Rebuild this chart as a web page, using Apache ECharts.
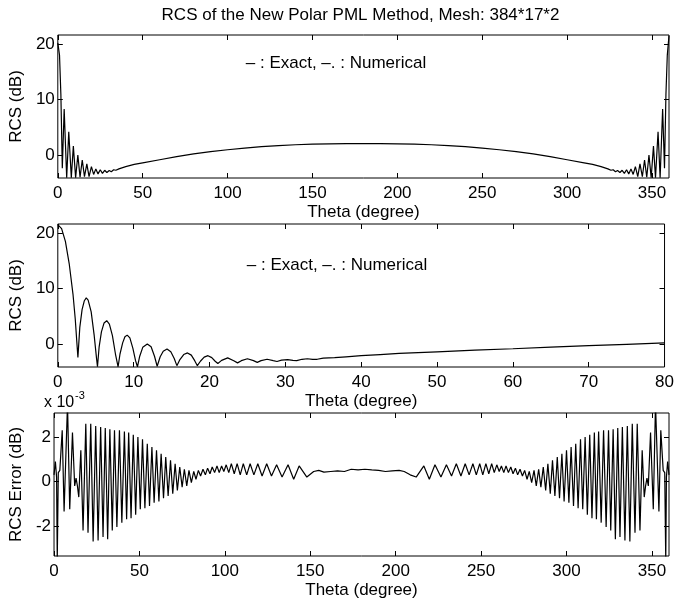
<!DOCTYPE html>
<html><head><meta charset="utf-8">
<script src="https://cdn.jsdelivr.net/npm/echarts@6/dist/echarts.min.js"></script>
<style>html,body{margin:0;padding:0;background:#fff}#c{width:677px;height:604px}</style>
</head><body><div id="c"></div>
<script>
// ---------- data ----------
// Panel 1: full-range RCS (dB) vs theta (deg)
const rcsWideTheta = [0,1,1.8,2.65,3.75,5.23,6.45,7.95,9.15,10.5,
  11.8,13.1,14.4,15.7,17.1,18.4,19.8,21.1,22.4,23.7,
  25,26.3,27.6,28.9,30.3,31.5,32.9,34.2,36,40,
  45,50,60,70,80,90,100,110,120,130,
  140,150,160,170,180,190,200,210,220,230,
  240,250,260,270,280,290,300,310,315,320,
  324,325.8,327.1,328.5,329.7,331.1,332.4,333.7,335,336.3,
  337.6,338.9,340.2,341.6,342.9,344.3,345.6,346.9,348.2,349.5,
  350.85,352.05,353.55,354.77,356.25,357.35,358.2,359,360];
const rcsWideDb = [20.2,18,11,-2.4,8.3,-4.1,4.2,-4.1,1.6,-4.1,
  0,-4,-0.9,-3.9,-1.6,-3.9,-2.1,-3.5,-2.5,-3.4,
  -2.65,-3.3,-2.75,-3.15,-2.8,-3,-2.65,-2.75,-2.5,-2.1,
  -1.7,-1.4,-0.85,-0.3,0.2,0.6,0.95,1.25,1.5,1.7,
  1.85,1.95,2,2.05,2.05,2.05,2,1.95,1.85,1.7,
  1.5,1.25,0.95,0.6,0.2,-0.3,-0.85,-1.4,-1.7,-2.1,
  -2.5,-2.75,-2.65,-3,-2.8,-3.15,-2.75,-3.3,-2.65,-3.4,
  -2.5,-3.5,-2.1,-3.9,-1.6,-3.9,-0.9,-4,0,-4.1,
  1.6,-4.1,4.2,-4.1,8.3,-2.4,11,18,21.5];

// Panel 2: RCS (dB), theta 0..80 deg
const rcsZoomTheta = [0,0.5,1.0,1.5,2.0,2.3,2.5,2.65,
  2.9,3.2,3.5,3.75,4.0,4.4,4.8,5.1,5.23,
  5.45,5.75,6.1,6.45,6.8,7.2,7.6,7.95,
  8.2,8.55,8.85,9.15,9.5,9.9,10.25,10.5,
  10.8,11.2,11.8,12.3,12.75,13.1,
  13.5,13.9,14.4,14.9,15.35,15.7,
  16.1,16.6,17.1,17.6,18.05,18.4,
  18.8,19.3,19.8,20.3,20.75,21.1,
  21.6,22.4,23.2,23.7,
  24.2,25.0,25.8,26.3,
  26.8,27.6,28.4,28.9,
  29.5,30.3,31.0,31.5,
  32.2,32.9,33.6,34.2,
  35,36.5,38,40,42.5,45,47.5,50,55,60,65,70,75,80];
const rcsZoomDb = [21.5,20.8,18.5,14.5,9,4.5,0.5,-2.4,
  3.0,6.2,7.8,8.3,7.9,5.8,1.5,-2.5,-4.1,
  -0.5,2.2,3.8,4.2,3.6,1.5,-1.8,-4.1,
  -1.8,0.2,1.3,1.6,1.1,-0.8,-3.0,-4.1,
  -2.2,-0.6,0.0,-0.5,-2.2,-4.0,
  -2.3,-1.3,-0.9,-1.4,-2.6,-3.9,
  -2.8,-1.9,-1.6,-2.0,-3.0,-3.9,
  -3.1,-2.35,-2.1,-2.45,-3.1,-3.5,
  -2.95,-2.5,-3.0,-3.4,
  -3.0,-2.65,-3.0,-3.3,
  -3.0,-2.75,-3.0,-3.15,
  -2.9,-2.8,-2.95,-3.0,
  -2.75,-2.65,-2.75,-2.75,
  -2.55,-2.45,-2.3,-2.1,-1.9,-1.7,-1.55,-1.4,-1.1,-0.85,-0.55,-0.3,-0.05,0.2];

// Panel 3: RCS error (units of 1e-3 dB) vs theta
const errTheta = [0,0.8,1.5,1.9,2.5,3.4,4.8,5.9,7.9,9.2,
  10.8,12.1,12.9,13.7,14.5,15.7,17.0,18.6,19.9,21.5,
  22.9,24.4,25.8,27.3,28.7,30.0,31.4,32.7,34.1,35.4,
  36.8,38.3,39.7,41.2,42.5,43.7,45.1,46.4,47.8,49.1,
  50.5,51.8,53.2,54.6,55.9,57.3,58.6,60.0,61.4,62.7,
  64.1,65.4,66.8,68.2,69.5,70.9,72.2,73.6,75.0,76.3,
  77.7,79.0,80.4,81.8,83.1,84.5,85.8,87.2,88.6,89.9,
  91.3,92.6,94.0,95.4,96.7,98.1,99.4,100.8,
  102.3,103.8,105.5,107.2,109,110.8,112.8,114.8,117,119.3,
  121.8,124.5,127.3,130.3,133.5,137,140.3,143.5,148,152,
  155,158,162,166,170,174,178,182,186,190,
  194,198,202,205,208.5,212,216.5,219.7,223,226.5,
  229.7,232.7,235.5,238.2,240.7,243,245.2,247.2,249.2,251,
  252.8,254.5,256.2,257.7,259.2,
  260.6,261.9,263.3,264.6,266.0,267.4,268.7,270.1,271.4,272.8,
  274.2,275.5,276.9,278.2,279.6,281.0,282.3,283.7,285.0,286.4,
  287.8,289.1,290.5,291.8,293.2,294.6,295.9,297.3,298.6,300.0,
  301.4,302.7,304.1,305.4,306.8,308.2,309.5,310.9,312.2,313.6,
  314.9,316.3,317.5,318.8,320.3,321.7,323.2,324.6,325.9,327.3,
  328.6,330.0,331.3,332.7,334.2,335.6,337.1,338.5,340.1,341.4,
  343.0,344.3,345.5,346.3,347.1,347.9,349.2,350.8,352.1,354.1,
  355.2,356.6,357.5,358.1,358.5,359.2,360];
const errVal = [0.3,0.9,0.2,-3.6,0.4,0.5,2.3,-1.35,3.5,-1.25,
  2.2,-0.2,0.15,-0.2,-0.7,1.4,-2.2,2.6,-2.3,2.6,
  -2.7,2.5,-2.65,2.45,-2.5,2.4,-2.6,2.35,-2.2,2.3,
  -2.05,2.3,-1.85,2.25,-1.7,2.2,-1.65,2.1,-1.5,2.0,
  -1.25,1.9,-1.2,1.7,-1.1,1.55,-0.95,1.4,-0.9,1.25,
  -0.75,1.1,-0.65,0.95,-0.55,0.8,-0.4,0.65,-0.25,0.55,
  -0.2,0.5,-0.05,0.45,0.1,0.5,0.25,0.55,0.3,0.6,
  0.35,0.65,0.4,0.7,0.4,0.7,0.45,0.75,
  0.4,0.8,0.35,0.8,0.3,0.8,0.3,0.8,0.3,0.8,
  0.25,0.8,0.25,0.75,0.2,0.75,0.1,0.7,0.2,0.45,
  0.5,0.42,0.45,0.48,0.45,0.55,0.52,0.55,0.52,0.5,
  0.45,0.48,0.5,0.45,0.3,0.2,0.7,0.1,0.75,0.2,
  0.75,0.25,0.8,0.25,0.8,0.3,0.8,0.3,0.8,0.3,
  0.8,0.35,0.8,0.4,0.75,
  0.45,0.7,0.4,0.7,0.4,0.65,0.35,0.6,0.3,0.55,
  0.25,0.5,0.1,0.45,-0.05,0.5,-0.2,0.55,-0.25,0.65,
  -0.4,0.8,-0.55,0.95,-0.65,1.1,-0.75,1.25,-0.9,1.4,
  -0.95,1.55,-1.1,1.7,-1.2,1.9,-1.25,2.0,-1.5,2.1,
  -1.65,2.2,-1.7,2.25,-1.85,2.3,-2.05,2.3,-2.2,2.35,
  -2.6,2.4,-2.5,2.45,-2.65,2.5,-2.7,2.6,-2.3,2.6,
  -2.2,1.4,-0.7,-0.2,0.15,-0.2,2.2,-1.25,3.5,-1.35,
  2.3,0.5,0.4,-3.6,0.2,0.9,0.3];

const ticksWide = [0,50,100,150,200,250,300,350];
const ticksZoom = [0,10,20,30,40,50,60,70,80];
const ticksRcs = [0,10,20];
const ticksErr = [-2,0,2];

// ---------- layout / style ----------
const FONT = '"Liberation Sans", Arial, Helvetica, sans-serif';
const FS = 17;
const L = 52, W = 617, H = 143;
const tops = [35, 224, 413];

function pairs(xs, ys){ return xs.map((x,i)=>[x, ys[i]]); }

const tickStyle = {inside:true, length:5, lineStyle:{color:'#000', width:1}};
const noLine = {show:false, onZero:false};
function xPair(gi, min, max, ticks){
  return [
    {type:'value', gridIndex:gi, position:'bottom', min, max,
     axisLine:noLine, splitLine:{show:false},
     axisTick:Object.assign({customValues:ticks}, tickStyle),
     axisLabel:{customValues:ticks, color:'#000', fontSize:FS, fontFamily:FONT, margin:7},
     name:'Theta (degree)', nameLocation:'middle', nameGap:26,
     nameTextStyle:{color:'#000', fontSize:FS, fontFamily:FONT}},
    {type:'value', gridIndex:gi, position:'top', min, max,
     axisLine:noLine, splitLine:{show:false},
     axisTick:Object.assign({customValues:ticks}, tickStyle),
     axisLabel:{show:false}}
  ];
}
function yPair(gi, min, max, ticks, name){
  return [
    {type:'value', gridIndex:gi, position:'left', min, max,
     axisLine:noLine, splitLine:{show:false},
     axisTick:Object.assign({customValues:ticks}, tickStyle),
     axisLabel:{customValues:ticks, color:'#000', fontSize:FS, fontFamily:FONT, margin:3},
     name, nameLocation:'middle', nameGap:26,
     nameTextStyle:{color:'#000', fontSize:FS, fontFamily:FONT}},
    {type:'value', gridIndex:gi, position:'right', min, max,
     axisLine:noLine, splitLine:{show:false},
     axisTick:Object.assign({customValues:ticks}, tickStyle),
     axisLabel:{show:false}}
  ];
}

const lineSeries = (xi, yi, data) => ({
  type:'line', xAxisIndex:xi, yAxisIndex:yi, data, showSymbol:false, symbol:'none',
  lineStyle:{color:'#000', width:1.2}, clip:true, silent:true
});

const chart = echarts.init(document.getElementById('c'), null, {renderer:'canvas'});
chart.setOption({
  animation:false,
  backgroundColor:'#fff',
  grid: tops.map(t => ({left:L, top:t, width:W, height:H, show:true, borderColor:'#000', borderWidth:1, containLabel:false})),
  xAxis: [].concat(xPair(0,0,360,ticksWide), xPair(1,0,80,ticksZoom), xPair(2,0,360,ticksWide)),
  yAxis: [].concat(yPair(0,-4.14,21.62,ticksRcs,'RCS (dB)'), yPair(1,-4.14,21.62,ticksRcs,'RCS (dB)'), yPair(2,-3.35,3.08,ticksErr,'RCS Error (dB)')),
  series: [
    lineSeries(0,0,pairs(rcsWideTheta, rcsWideDb)),
    lineSeries(2,2,pairs(rcsZoomTheta, rcsZoomDb)),
    lineSeries(4,4,pairs(errTheta, errVal))
  ],
  graphic: [
    {type:'text', x:360.5, y:15, style:{text:'RCS of the New Polar PML Method, Mesh: 384*17*2', fill:'#000', font:FS+'px '+FONT, textAlign:'center', textVerticalAlign:'middle'}},
    {type:'text', x:336, y:63, style:{text:'\u2013 : Exact, \u2013. : Numerical', fill:'#000', font:FS+'px '+FONT, textAlign:'center', textVerticalAlign:'middle'}},
    {type:'text', x:337, y:265, style:{text:'\u2013 : Exact, \u2013. : Numerical', fill:'#000', font:FS+'px '+FONT, textAlign:'center', textVerticalAlign:'middle'}},
    {type:'text', x:44, y:403, style:{text:'x 10', fill:'#000', font:'16px '+FONT, textAlign:'left', textVerticalAlign:'middle'}},
    {type:'text', x:75, y:396, style:{text:'-3', fill:'#000', font:'11px '+FONT, textAlign:'left', textVerticalAlign:'middle'}}
  ]
});
</script>
</body></html>
